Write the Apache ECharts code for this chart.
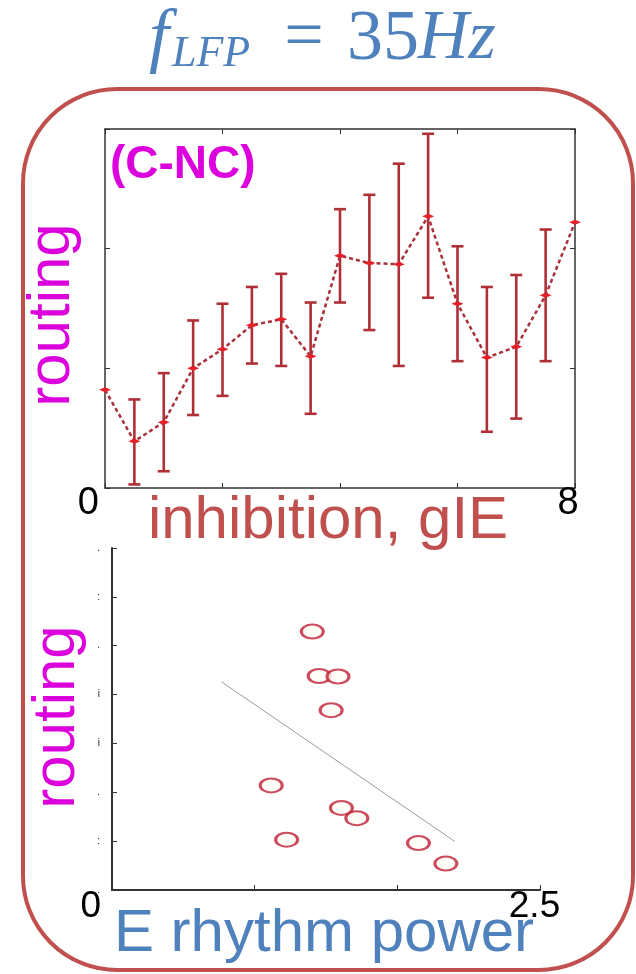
<!DOCTYPE html>
<html>
<head>
<meta charset="utf-8">
<script src="https://cdn.jsdelivr.net/npm/echarts@6/dist/echarts.min.js"></script>
<style>
  html, body { margin: 0; padding: 0; background: #fff; }
  #main { width: 636px; height: 974px; }
</style>
</head>
<body>
<div id="main"></div>
<script>
// top panel: routing (C-NC) vs inhibition gIE, mean with error bars
const gIE = [0, 0.5, 1, 1.5, 2, 2.5, 3, 3.5, 4, 4.5, 5, 5.5, 6, 6.5, 7, 7.5, 8];
const routingMean = [0.82, 0.39, 0.55, 1.0, 1.16, 1.36, 1.41, 1.1, 1.94, 1.88, 1.87, 2.27, 1.54, 1.09, 1.18, 1.61, 2.22];
const routingHigh = [null, 0.74, 0.96, 1.4, 1.54, 1.68, 1.79, 1.55, 2.33, 2.45, 2.71, 2.96, 2.02, 1.68, 1.78, 2.16, null];
const routingLow = [null, 0.03, 0.14, 0.61, 0.77, 1.04, 1.02, 0.62, 1.55, 1.32, 1.02, 1.59, 1.06, 0.47, 0.58, 1.06, null];

// bottom panel: routing vs E rhythm power
const powerX = [1.17, 1.21, 1.32, 1.28, 0.93, 1.34, 1.43, 1.02, 1.79, 1.95];
const powerRouting = [5.29, 4.38, 4.37, 3.68, 2.14, 1.68, 1.47, 1.03, 0.96, 0.54];
const fitX = [0.64, 2.0];
const fitY = [4.26, 1.0];
const yMarks = ['.', ':', '.', 'i', 'i', '.', ':', '.'];

const RED = '#c0504d';
const BLUE = '#4f81bd';
const MAGENTA = '#dc00dc';
const SANS = '"Liberation Sans", Arial, sans-serif';
const SERIF = '"Liberation Serif", "Times New Roman", serif';

const lineData = gIE.map((x, i) => [x, routingMean[i]]);
const errData = [];
gIE.forEach((x, i) => {
  if (routingHigh[i] != null) errData.push([x, routingLow[i], routingHigh[i]]);
});

const chart = echarts.init(document.getElementById('main'));

const boxAxis = {
  axisLine: { show: true, onZero: false, lineStyle: { color: '#333', width: 1.5 } },
  axisTick: { show: true, inside: true, length: 5, lineStyle: { color: '#333' } },
  splitLine: { show: false }
};

chart.setOption({
  animation: false,
  backgroundColor: '#fff',
  grid: [
    { left: 105, top: 129, width: 470, height: 359 },
    { left: 112, top: 548, width: 428, height: 342 }
  ],
  xAxis: [
    Object.assign({
      gridIndex: 0, type: 'value', min: 0, max: 8, interval: 2, position: 'bottom',
      axisLabel: {
        formatter: v => v === 0 ? '{l|0}' : (v === 8 ? '{r|8}' : ''),
        fontSize: 38, fontFamily: SANS, color: '#000', margin: -3,
        alignMinLabel: 'right', alignMaxLabel: 'center',
        rich: {
          l: { fontSize: 38, fontFamily: SANS, color: '#000', padding: [0, 6, 0, 0] },
          r: { fontSize: 38, fontFamily: SANS, color: '#000', padding: [0, 14, 0, 0] }
        }
      }
    }, boxAxis),
    Object.assign({
      gridIndex: 0, type: 'value', min: 0, max: 8, interval: 2, position: 'top',
      axisLabel: { show: false }
    }, boxAxis),
    {
      gridIndex: 1, type: 'value', min: 0, max: 2.5, interval: 2.5 / 3,
      axisLine: { show: true, onZero: false, lineStyle: { color: '#333', width: 2 } },
      axisTick: { show: true, inside: true, length: 5, lineStyle: { color: '#333' } },
      splitLine: { show: false },
      axisLabel: {
        formatter: v => v < 0.01 ? '0' : (v > 2.49 ? '2.5' : ''),
        fontSize: 37, fontFamily: SANS, color: '#000', margin: -2,
        alignMinLabel: 'right', padding: [0, 11, 0, 0]
      }
    }
  ],
  yAxis: [
    Object.assign({
      gridIndex: 0, type: 'value', min: 0, max: 3, interval: 1, position: 'left',
      axisLabel: { show: false }
    }, boxAxis),
    Object.assign({
      gridIndex: 0, type: 'value', min: 0, max: 3, interval: 1, position: 'right',
      axisLabel: { show: false }
    }, boxAxis),
    {
      gridIndex: 1, type: 'value', min: 0, max: 7, interval: 1,
      axisLine: { show: true, onZero: false, lineStyle: { color: '#333', width: 2 } },
      axisTick: { show: true, inside: true, length: 5, lineStyle: { color: '#333' } },
      splitLine: { show: false },
      axisLabel: {
        formatter: v => yMarks[Math.round(v)] || '',
        fontSize: 10, color: '#222', margin: 12
      }
    }
  ],
  series: [
    {
      type: 'custom', xAxisIndex: 0, yAxisIndex: 0, data: errData, z: 3,
      renderItem: function (params, api) {
        const x = api.value(0);
        const lo = api.coord([x, api.value(1)]);
        const hi = api.coord([x, api.value(2)]);
        const w = 6;
        const st = { stroke: '#b02e36', lineWidth: 2.6 };
        return {
          type: 'group',
          children: [
            { type: 'line', shape: { x1: hi[0], y1: hi[1], x2: lo[0], y2: lo[1] }, style: st },
            { type: 'line', shape: { x1: hi[0] - w, y1: hi[1], x2: hi[0] + w, y2: hi[1] }, style: st },
            { type: 'line', shape: { x1: lo[0] - w, y1: lo[1], x2: lo[0] + w, y2: lo[1] }, style: st }
          ]
        };
      }
    },
    {
      type: 'line', xAxisIndex: 0, yAxisIndex: 0, data: lineData, z: 4,
      lineStyle: { color: '#a8303a', width: 2.5, type: [4, 3] },
      symbol: 'diamond', symbolSize: [12, 5],
      itemStyle: { color: '#e42028' }
    },
    {
      type: 'line', xAxisIndex: 2, yAxisIndex: 2,
      data: fitX.map((x, i) => [x, fitY[i]]),
      symbol: 'none', lineStyle: { color: '#9a9a9a', width: 1 }
    },
    {
      type: 'scatter', xAxisIndex: 2, yAxisIndex: 2,
      data: powerX.map((x, i) => [x, powerRouting[i]]),
      symbol: 'circle', symbolSize: [22, 14],
      itemStyle: { color: '#fffdf6', borderColor: '#bf1f36', borderWidth: 2.5 }
    }
  ],
  graphic: [
    {
      type: 'rect', z: 1,
      shape: { x: 23, y: 89, width: 610, height: 881, r: 94 },
      style: { fill: null, stroke: RED, lineWidth: 4 }
    },
    // title f_LFP = 35Hz
    { type: 'text', z: 10, x: 149, y: 40, style: { text: 'f', font: 'italic 72px ' + SERIF, fill: BLUE, verticalAlign: 'middle', align: 'left' } },
    { type: 'text', z: 10, x: 172, y: 54, style: { text: 'LFP', font: 'italic 44px ' + SERIF, fill: BLUE, verticalAlign: 'middle', align: 'left' } },
    { type: 'text', z: 10, x: 304, y: 40, style: { text: '=', font: '70px ' + SERIF, fill: BLUE, verticalAlign: 'middle', align: 'center' } },
    { type: 'text', z: 10, x: 347, y: 40, style: { text: '35', font: '72px ' + SERIF, fill: BLUE, verticalAlign: 'middle', align: 'left' } },
    { type: 'text', z: 10, x: 418, y: 40, style: { text: 'Hz', font: 'italic 70px ' + SERIF, fill: BLUE, verticalAlign: 'middle', align: 'left' } },
    // panel labels
    { type: 'text', z: 10, x: 110, y: 165, style: { text: '(C-NC)', font: 'bold 46px ' + SANS, fill: MAGENTA, verticalAlign: 'middle', align: 'left' } },
    { type: 'text', z: 10, x: 52, y: 315, rotation: Math.PI / 2, style: { text: 'routing', font: '60px ' + SANS, fill: MAGENTA, verticalAlign: 'middle', align: 'center' } },
    { type: 'text', z: 10, x: 57, y: 717, rotation: Math.PI / 2, style: { text: 'routing', font: '60px ' + SANS, fill: MAGENTA, verticalAlign: 'middle', align: 'center' } },
    { type: 'text', z: 10, x: 328, y: 521, style: { text: 'inhibition, gIE', font: '60px ' + SANS, fill: RED, verticalAlign: 'middle', align: 'center' } },
    { type: 'text', z: 10, x: 324, y: 934, style: { text: 'E rhythm power', font: '60px ' + SANS, fill: BLUE, verticalAlign: 'middle', align: 'center' } }
  ]
});
</script>
</body>
</html>
